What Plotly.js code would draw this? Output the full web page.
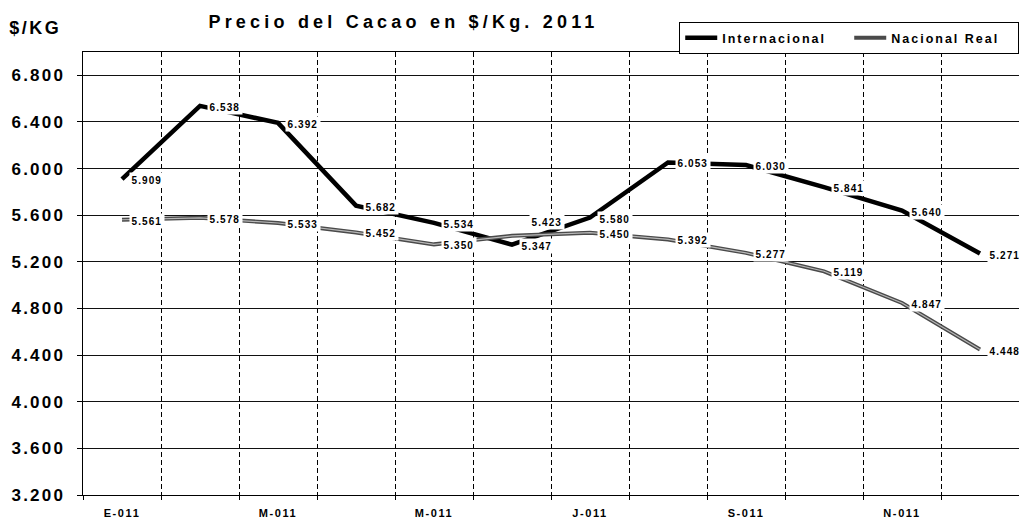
<!DOCTYPE html>
<html>
<head>
<meta charset="utf-8">
<script src="https://cdn.plot.ly/plotly-3.0.1.min.js"></script>
<style>
  html, body { margin: 0; padding: 0; background: #fff; }
  #chart { width: 1019px; height: 524px; }
  .gtitle { letter-spacing: 4.2px; }
  .ytick text { letter-spacing: 2.2px; }
  .xtick text { letter-spacing: 1.6px; }
  .legendtext { letter-spacing: 2px; }
  .annotation-text { letter-spacing: 1.1px; }
  .ylabel-ann .annotation-text { letter-spacing: 2.5px; }
</style>
</head>
<body>
<div id="chart"></div>
<script>
// Months of 2011 (index 0 = enero ... 11 = diciembre)
const months = ['E-011','F-011','M-011','A-011','M-011','J-011','J-011','A-011','S-011','O-011','N-011','D-011'];
// Tick labels shown on the axis (every second month)
const tickMonthIdx = [0, 2, 4, 6, 8, 10];
const tickLabels = ['E-011','M-011','M-011','J-011','S-011','N-011'];

// Series values ($/Kg)
const internacional = [5.909, 6.538, 6.392, 5.682, 5.534, 5.347, 5.580, 6.053, 6.030, 5.841, 5.640, 5.271];
const nacionalReal  = [5.561, 5.578, 5.533, 5.452, 5.350, 5.423, 5.450, 5.392, 5.277, 5.119, 4.847, 4.448];

const xIdx = months.map((m, i) => i);

const traces = [
  {
    type: 'scatter', mode: 'lines', name: 'Internacional',
    x: xIdx, y: internacional,
    line: { color: '#000000', width: 4.5 },
    hoverinfo: 'skip'
  },
  {
    type: 'scatter', mode: 'lines', name: 'Nacional Real',
    x: xIdx, y: nacionalReal,
    line: { color: '#4a4a4a', width: 4 },
    hoverinfo: 'skip'
  },
  {
    type: 'scatter', mode: 'lines', name: 'Nacional Real',
    x: xIdx, y: nacionalReal, showlegend: false,
    line: { color: '#b8b8b8', width: 1.2 },
    hoverinfo: 'skip'
  }
];

const labelFont = { family: 'Liberation Sans, Arial, sans-serif', size: 10, color: '#000', weight: 700 };

function makeLabels(values, special) {
  return values.map((v, i) => {
    const s = (special && special[i]) || { xshift: 7, yshift: -1 };
    return {
      x: i, y: v, xref: 'x', yref: 'y',
      text: v.toFixed(3),
      showarrow: false,
      xanchor: 'left', yanchor: 'middle',
      xshift: s.xshift, yshift: s.yshift,
      bgcolor: '#ffffff', borderpad: 1.5,
      font: labelFont
    };
  });
}

const annotations = []
  .concat(makeLabels(internacional))
  .concat(makeLabels(nacionalReal, { 5: { xshift: 17, yshift: 14 } }))
  .concat([{
    xref: 'paper', yref: 'paper',
    x: -0.0785, y: 1.054, xanchor: 'left', yanchor: 'middle',
    text: '$/KG', showarrow: false,
    font: { family: 'Liberation Sans, Arial, sans-serif', size: 18, color: '#000', weight: 700 },
    name: 'ylabel'
  }]);

const layout = {
  width: 1019, height: 524,
  margin: { l: 83, r: 0, t: 52, b: 29, pad: 0, autoexpand: false },
  paper_bgcolor: '#ffffff', plot_bgcolor: '#ffffff',
  showlegend: true,
  title: {
    text: 'Precio del Cacao en $/Kg. 2011',
    x: 0.396, xref: 'container', xanchor: 'center',
    y: 0.958, yref: 'container', yanchor: 'middle',
    font: { family: 'Liberation Sans, Arial, sans-serif', size: 18, color: '#000', weight: 700 }
  },
  legend: {
    orientation: 'h',
    x: 0.637, xanchor: 'left', y: 0.995, yanchor: 'bottom',
    bgcolor: '#ffffff', bordercolor: '#000', borderwidth: 1,
    font: { family: 'Liberation Sans, Arial, sans-serif', size: 12.5, color: '#000', weight: 700 },
    itemwidth: 32, tracegroupgap: 0,
    entrywidth: 122, entrywidthmode: 'pixels',
    traceorder: 'normal'
  },
  xaxis: {
    range: [-0.5, 11.5],
    tickmode: 'array', tickvals: tickMonthIdx, ticktext: tickLabels,
    showgrid: false, zeroline: false,
    showline: true, linecolor: '#000', linewidth: 1, mirror: true,
    ticks: '', ticklabelstandoff: 8,
    tickfont: { family: 'Liberation Sans, Arial, sans-serif', size: 11, color: '#000', weight: 700 },
    minor: {
      tickmode: 'linear', tick0: 0.5, dtick: 1,
      showgrid: true, gridcolor: '#000', gridwidth: 1, griddash: '5px,3px',
      ticks: 'outside', ticklen: 4, tickcolor: '#000', tickwidth: 1
    },
    fixedrange: true
  },
  yaxis: {
    range: [3.2, 7.0],
    tickmode: 'linear', tick0: 3.2, dtick: 0.4, tickformat: '.3f',
    showgrid: true, gridcolor: '#111', gridwidth: 1,
    zeroline: false,
    showline: true, linecolor: '#000', linewidth: 1.5,
    ticks: 'outside', ticklen: 5, tickcolor: '#000', tickwidth: 1,
    ticklabelstandoff: 8,
    tickfont: { family: 'Liberation Sans, Arial, sans-serif', size: 17, color: '#000', weight: 700 },
    fixedrange: true
  },
  annotations: annotations
};

Plotly.newPlot('chart', traces, layout, { staticPlot: true, displayModeBar: false }).then(() => {
  // tag the axis-title annotation so its letter spacing can be styled
  const anns = document.querySelectorAll('.annotation');
  if (anns.length) anns[anns.length - 1].classList.add('ylabel-ann');
});
</script>
</body>
</html>
